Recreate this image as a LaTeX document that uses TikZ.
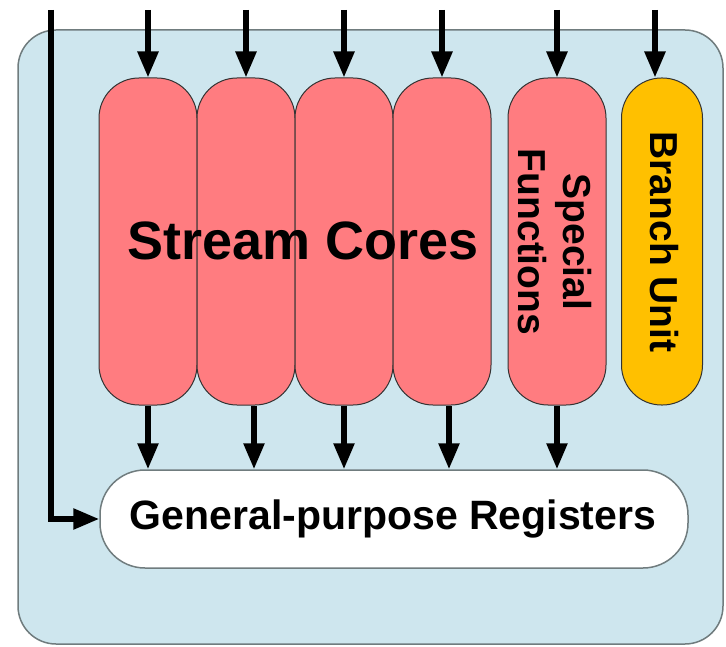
\documentclass[tikz,border=0pt]{standalone}
\usepackage{fontspec}
\setmainfont{Liberation Sans}
\usetikzlibrary{arrows.meta}

\definecolor{panelblue}{RGB}{206,230,238}
\definecolor{paneledge}{RGB}{112,124,126}
\definecolor{coresalmon}{RGB}{255,124,128}
\definecolor{branchgold}{RGB}{255,192,0}

\begin{document}
\begin{tikzpicture}[x=1pt,y=-1pt,
  unitbox/.style={draw=black!80, line width=1pt, rounded corners=40pt,
    minimum width=98pt, minimum height=327pt, inner sep=0pt, fill=coresalmon},
  flow/.style={line width=5.5pt, -{Triangle[length=26pt,width=20pt]}},
  bigtext/.style={font=\bfseries\fontsize{39}{45}\selectfont, align=center, inner sep=0pt}
]
\useasboundingbox (0,0) rectangle (726,647);

% compute unit panel
\draw[fill=panelblue, draw=paneledge, line width=1.5pt, rounded corners=38pt]
  (18,30) rectangle (723,644);

% stream cores, special functions and branch unit
\node[unitbox] (sc1) at (148,241.5) {};
\node[unitbox] (sc2) at (246,241.5) {};
\node[unitbox] (sc3) at (344,241.5) {};
\node[unitbox] (sc4) at (442,241.5) {};
\node[unitbox] (sf)  at (557,241.5) {};
\node[unitbox, fill=branchgold, minimum width=81pt] (bu) at (662,241.5) {};

\node[bigtext, font=\bfseries\fontsize{54}{60}\selectfont] (sctext) at (303,241) {Stream Cores};
\node[bigtext, rotate=-90] (sftext) at (555,242) {Special\\Functions};
\node[bigtext, rotate=-90] (butext) at (664,242) {Branch Unit};

% register file
\node[draw=paneledge, line width=1.5pt, fill=white, rounded corners=45pt,
  minimum width=588pt, minimum height=98pt, inner sep=0pt] (reg) at (394,519) {};
\node[bigtext, font=\bfseries\fontsize{41}{45}\selectfont] (regtext) at (393,519) {General-purpose Registers};

% incoming instruction lines
\coordinate (t1) at (148,10);
\coordinate (t2) at (246,10);
\coordinate (t3) at (344,10);
\coordinate (t4) at (442,10);
\coordinate (t5) at (557,10);
\coordinate (t6) at (655,10);
\coordinate (feed) at (51,10);
\draw[flow] (t1) -- (sc1.north);
\draw[flow] (t2) -- (sc2.north);
\draw[flow] (t3) -- (sc3.north);
\draw[flow] (t4) -- (sc4.north);
\draw[flow] (t5) -- (sf.north);
\draw[flow] (t6) -- (t6 |- bu.north);
\draw[flow] (feed) |- (reg.west);

% results written to the registers
\coordinate (b1) at (sc1.south);
\coordinate (b2) at ([xshift=8pt]sc2.south);
\coordinate (b3) at (sc3.south);
\coordinate (b4) at ([xshift=7pt]sc4.south);
\coordinate (b5) at (sf.south);
\foreach \b in {b1,b2,b3,b4,b5}
  \draw[flow] (\b) -- (\b |- reg.north);
\end{tikzpicture}
\end{document}
